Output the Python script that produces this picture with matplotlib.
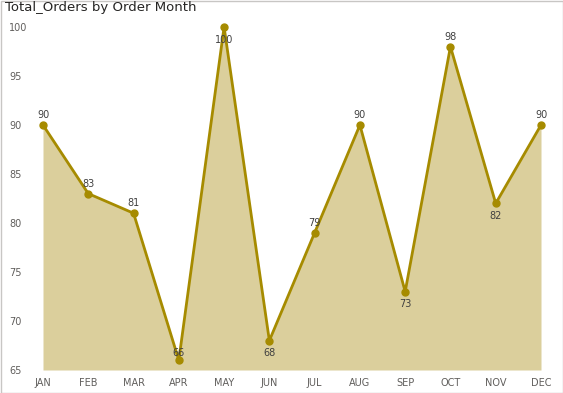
import matplotlib
matplotlib.use("Agg")
import matplotlib.pyplot as plt
from matplotlib.patches import Rectangle

months = ["JAN", "FEB", "MAR", "APR", "MAY", "JUN", "JUL", "AUG", "SEP", "OCT", "NOV", "DEC"]
orders = [90, 83, 81, 66, 100, 68, 79, 90, 73, 98, 82, 90]
label_pos = ["above", "above", "above", "above", "below", "below", "above", "above", "below", "above", "below", "above"]
yticks = [65, 70, 75, 80, 85, 90, 95, 100]

line_color = "#A68B00"
fill_color = "#DBCF9C"
text_gray = "#605E5C"

fig = plt.figure(figsize=(5.63, 3.93), dpi=100)
ax = fig.add_axes([43/563, 1 - 370/393, (541 - 43)/563, (370 - 27)/393])
x = list(range(len(months)))
ax.fill_between(x, orders, 65, color=fill_color, linewidth=0, zorder=1)
ax.plot(x, orders, color=line_color, linewidth=2, marker="o", markersize=5, zorder=3,
        clip_on=False)
ax.set_xlim(0, len(months) - 1)
ax.set_ylim(65, 100)
ax.set_yticks(yticks)
ax.set_yticklabels([str(v) for v in yticks])
ax.set_xticks(x)
ax.set_xticklabels(months)
for s in ax.spines.values():
    s.set_visible(False)
ax.tick_params(axis="both", length=0, labelsize=7, labelcolor=text_gray)
ax.tick_params(axis="y", pad=24.5)
ax.tick_params(axis="x", pad=6)
for lbl in ax.get_yticklabels():
    lbl.set_horizontalalignment("left")

for xi, v, p in zip(x, orders, label_pos):
    dy = 7 if p == "above" else -9
    if v == 66:
        dy = 5
    ax.annotate(str(v), (xi, v), xytext=(0, dy), textcoords="offset points",
                ha="center", va="center", fontsize=7, color="#404040", zorder=4,
                annotation_clip=False)

fig.text(5/563, 1 - 8/393, "Total_Orders by Order Month", fontsize=9.5,
         color="#252423", ha="left", va="center")

fig.patches.append(Rectangle((0.5/563, 0.5/393), 1 - 1/563, 1 - 1/393,
                             transform=fig.transFigure, fill=False,
                             edgecolor="#C8C6C4", linewidth=1))

fig.savefig("out.png", dpi=100)
